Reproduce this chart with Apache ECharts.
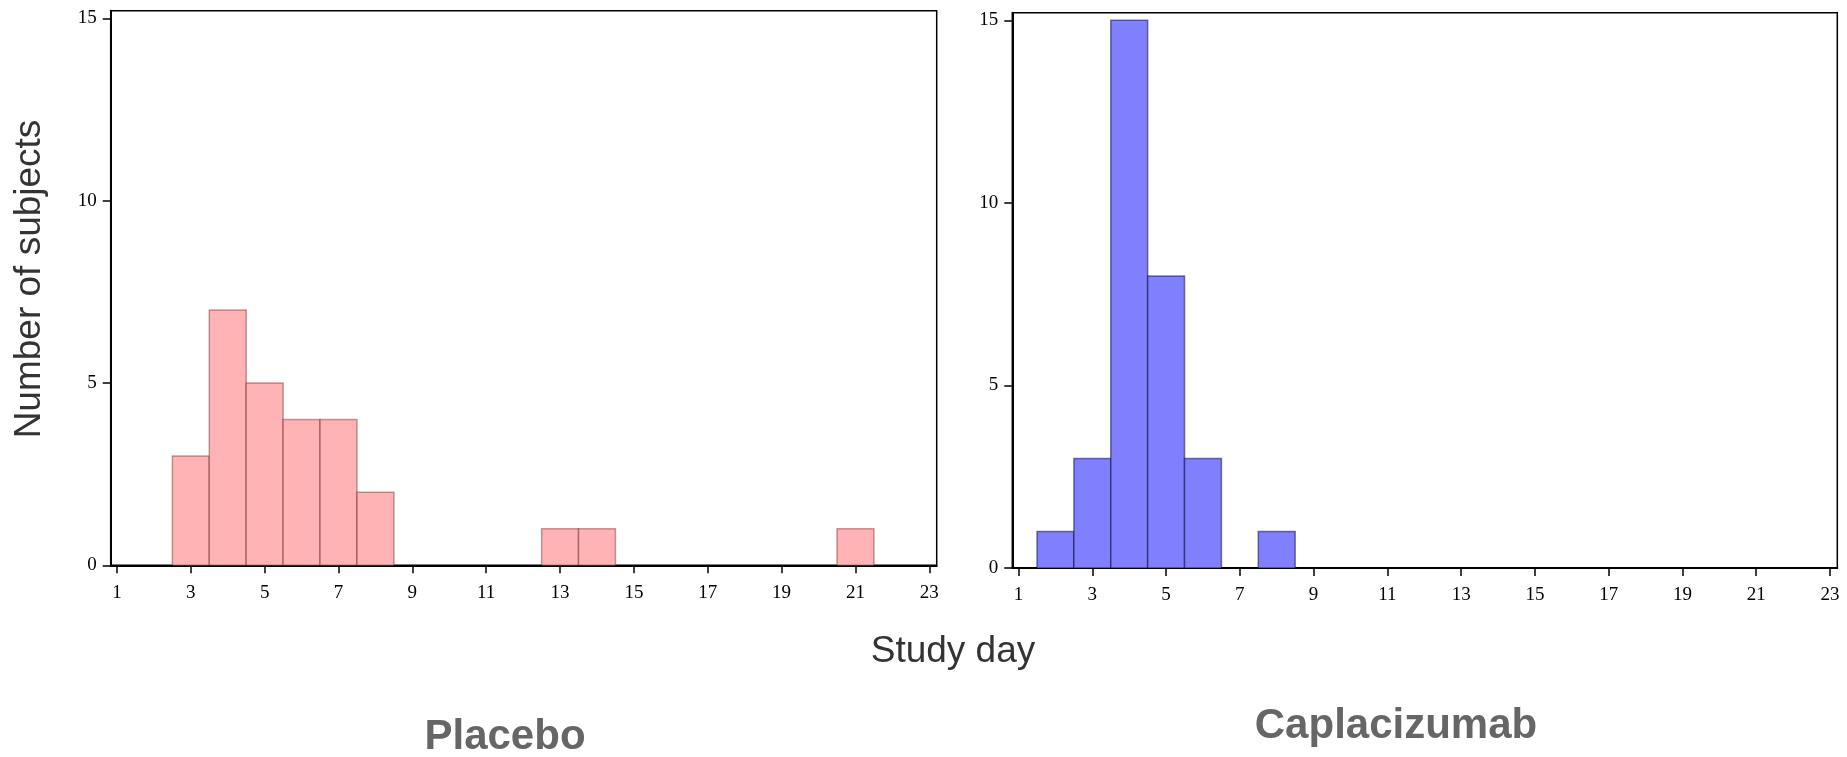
<!DOCTYPE html>
<html>
<head>
<meta charset="utf-8">
<script src="https://cdn.jsdelivr.net/npm/echarts@6/dist/echarts.min.js"></script>
<style>
html,body{margin:0;padding:0;background:#fff;}
#chart{width:1847px;height:757px;}
</style>
</head>
<body>
<div id="chart"></div>
<script>
const dayTicks = [1,3,5,7,9,11,13,15,17,19,21,23];
const countTicks = [0,5,10,15];
const placeboDays = [3,4,5,6,7,8,13,14,21];
const placeboCounts = [3,7,5,4,4,2,1,1,1];
const caplaDays = [2,3,4,5,6,8];
const caplaCounts = [1,3,15,8,3,1];
const panelTitles = ['Placebo','Caplacizumab'];
const xTitle = 'Study day';
const yTitle = 'Number of subjects';

const chart = echarts.init(document.getElementById('chart'));

function makeRender(fill, stroke){
  return function(params, api){
    const x = api.value(0), y = api.value(1);
    const p0 = api.coord([x-0.5, y]);
    const p1 = api.coord([x+0.5, 0]);
    return {type:'rect', shape:{x:p0[0], y:p0[1], width:p1[0]-p0[0], height:p1[1]-p0[1]},
      style:{fill:fill, stroke:stroke, lineWidth:1.5}};
  };
}

function xAxis(idx){
  return {type:'value', gridIndex:idx, min:0.83, max:23.2,
    axisLine:{show:true, onZero:false, lineStyle:{color:'#000', width:2}},
    axisTick:{show:true, customValues:dayTicks, length:8, lineStyle:{color:'#000', width:1.5}},
    axisLabel:{show:true, customValues:dayTicks, margin:18, color:'#000', fontFamily:'Liberation Serif', fontSize:19},
    splitLine:{show:false}};
}
function yAxis(idx){
  return {type:'value', gridIndex:idx, min:0, max:15.21,
    axisLine:{show:true, lineStyle:{color:'#000', width:2}},
    axisTick:{show:true, customValues:countTicks, length:8, lineStyle:{color:'#000', width:1.5}},
    axisLabel:{show:true, customValues:countTicks, margin:14, color:'#000', fontFamily:'Liberation Serif', fontSize:19},
    splitLine:{show:false}};
}

const option = {
  animation:false,
  backgroundColor:'#fff',
  grid:[
    {left:110.7, top:10.7, width:826, height:554.6, show:true, borderColor:'#000', borderWidth:1.5, backgroundColor:'transparent'},
    {left:1012.3, top:12.7, width:825, height:555.3, show:true, borderColor:'#000', borderWidth:1.5, backgroundColor:'transparent'}
  ],
  xAxis:[xAxis(0), xAxis(1)],
  yAxis:[yAxis(0), yAxis(1)],
  series:[
    {type:'custom', xAxisIndex:0, yAxisIndex:0, renderItem:makeRender('#ffb3b5','rgba(70,0,0,0.35)'),
      data: placeboDays.map((d,i)=>[d, placeboCounts[i]])},
    {type:'custom', xAxisIndex:1, yAxisIndex:1, renderItem:makeRender('#8080ff','rgba(0,0,50,0.5)'),
      data: caplaDays.map((d,i)=>[d, caplaCounts[i]])}
  ],
  graphic:[
    {type:'text', x:30, y:279, rotation:Math.PI/2, style:{text:yTitle, fill:'#333', font:'37px "Liberation Sans"', align:'center', verticalAlign:'middle'}},
    {type:'text', x:953, y:652, style:{text:xTitle, fill:'#333', font:'37px "Liberation Sans"', align:'center', verticalAlign:'middle'}},
    {type:'text', x:505, y:737, style:{text:panelTitles[0], fill:'#666', font:'bold 42px "Liberation Sans"', align:'center', verticalAlign:'middle'}},
    {type:'text', x:1396, y:726, style:{text:panelTitles[1], fill:'#666', font:'bold 42px "Liberation Sans"', align:'center', verticalAlign:'middle'}}
  ]
};
chart.setOption(option);
</script>
</body>
</html>
